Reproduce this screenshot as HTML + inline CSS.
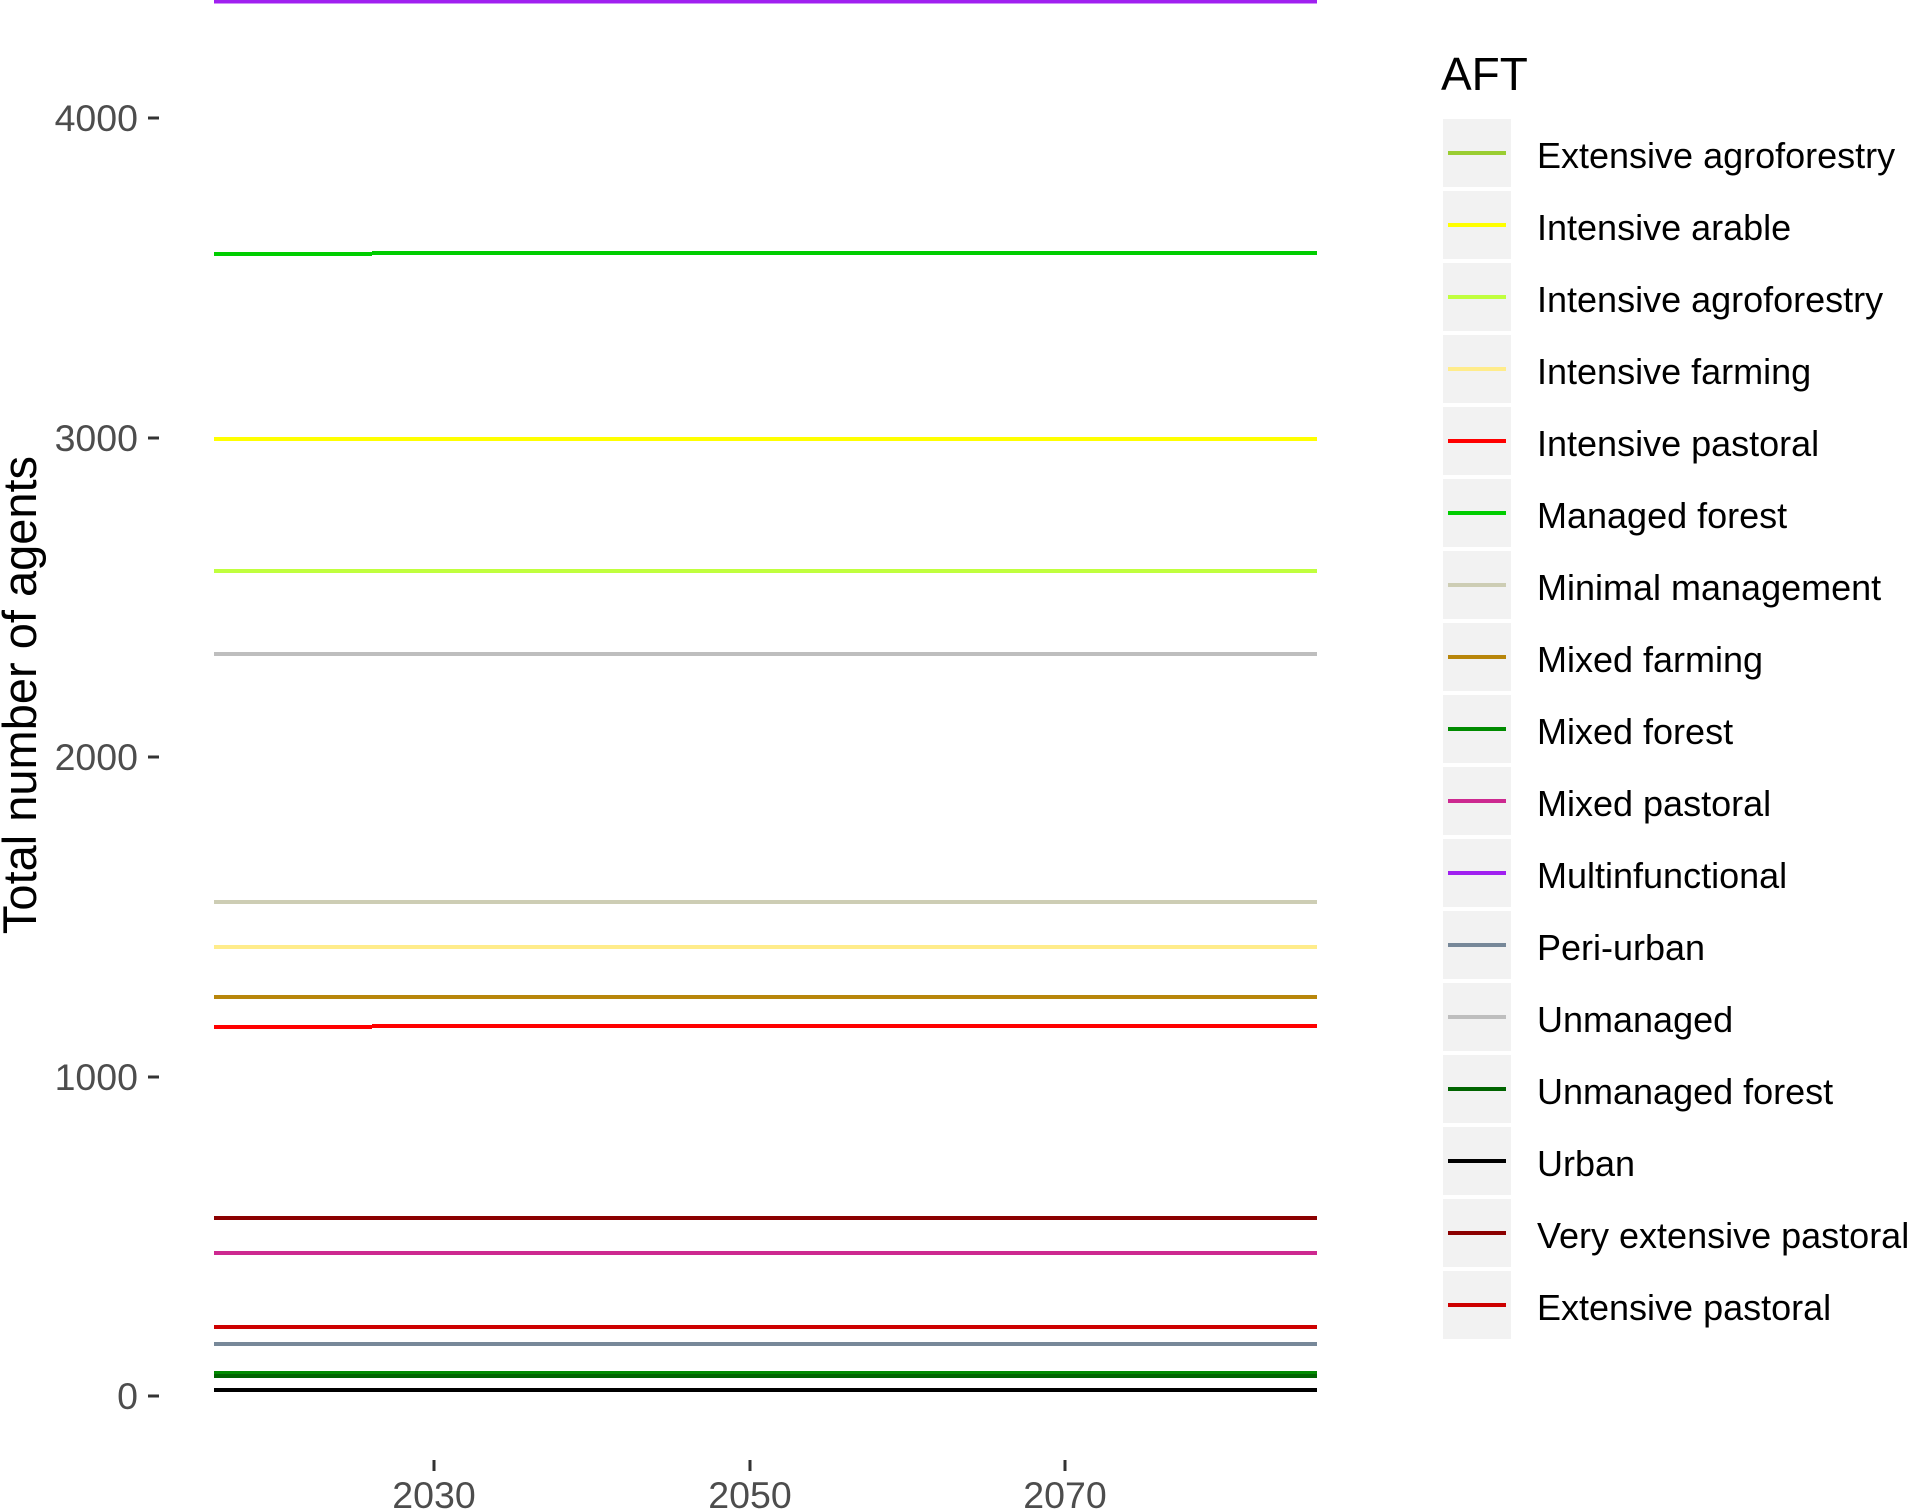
<!DOCTYPE html>
<html><head><meta charset="utf-8"><style>html,body{margin:0;padding:0;background:#fff}svg{display:block}</style></head>
<body>
<svg width="1908" height="1509" viewBox="0 0 1908 1509" xmlns="http://www.w3.org/2000/svg" font-family="Liberation Sans, sans-serif">
<g stroke-width="4" fill="none">
<line x1="214" x2="1317" y1="1.5" y2="1.5" stroke="#a020f0"/>
<line x1="214" x2="372" y1="254" y2="254" stroke="#00cd00"/>
<line x1="372" x2="1317" y1="253" y2="253" stroke="#00cd00"/>
<line x1="214" x2="1317" y1="439" y2="439" stroke="#ffff00"/>
<line x1="214" x2="1317" y1="571" y2="571" stroke="#c0ff3e"/>
<line x1="214" x2="1317" y1="654" y2="654" stroke="#bebebe"/>
<line x1="214" x2="1317" y1="902" y2="902" stroke="#cdcdb4"/>
<line x1="214" x2="1317" y1="947" y2="947" stroke="#ffec8b"/>
<line x1="214" x2="1317" y1="997" y2="997" stroke="#b8860b"/>
<line x1="214" x2="372" y1="1027" y2="1027" stroke="#ff0000"/>
<line x1="372" x2="1317" y1="1026" y2="1026" stroke="#ff0000"/>
<line x1="214" x2="1317" y1="1218" y2="1218" stroke="#8b0000"/>
<line x1="214" x2="1317" y1="1253" y2="1253" stroke="#cd2990"/>
<line x1="214" x2="1317" y1="1327" y2="1327" stroke="#cd0000"/>
<line x1="214" x2="1317" y1="1344" y2="1344" stroke="#778899"/>
<line x1="214" x2="1317" y1="1373" y2="1373" stroke="#008b00"/>
<line x1="214" x2="1317" y1="1376" y2="1376" stroke="#006400"/>
<line x1="214" x2="1317" y1="1390" y2="1390" stroke="#000000"/>
</g>
<g stroke="#333" stroke-width="3">
<line x1="148" x2="159" y1="118" y2="118"/><line x1="148" x2="159" y1="438" y2="438"/>
<line x1="148" x2="159" y1="757" y2="757"/><line x1="148" x2="159" y1="1077" y2="1077"/>
<line x1="148" x2="159" y1="1396" y2="1396"/>
<line x1="434" x2="434" y1="1460" y2="1471"/><line x1="750" x2="750" y1="1460" y2="1471"/><line x1="1065" x2="1065" y1="1460" y2="1471"/>
</g>
<g fill="#4d4d4d" font-size="37.5" text-anchor="end">
<text x="138" y="131">4000</text><text x="138" y="451">3000</text><text x="138" y="770">2000</text><text x="138" y="1090">1000</text><text x="138" y="1409">0</text>
</g>
<g fill="#4d4d4d" font-size="37.5" text-anchor="middle">
<text x="434" y="1508">2030</text><text x="750" y="1508">2050</text><text x="1065" y="1508">2070</text>
</g>
<text transform="translate(36,695) rotate(-90)" font-size="47" text-anchor="middle" fill="#000">Total number of agents</text>
<text x="1441" y="90" font-size="46" fill="#000">AFT</text>
<g fill="#f2f2f2">
<rect x="1443" y="119" width="68" height="68"/><rect x="1443" y="191" width="68" height="68"/><rect x="1443" y="263" width="68" height="68"/><rect x="1443" y="335" width="68" height="68"/><rect x="1443" y="407" width="68" height="68"/><rect x="1443" y="479" width="68" height="68"/><rect x="1443" y="551" width="68" height="68"/><rect x="1443" y="623" width="68" height="68"/><rect x="1443" y="695" width="68" height="68"/><rect x="1443" y="767" width="68" height="68"/><rect x="1443" y="839" width="68" height="68"/><rect x="1443" y="911" width="68" height="68"/><rect x="1443" y="983" width="68" height="68"/><rect x="1443" y="1055" width="68" height="68"/><rect x="1443" y="1127" width="68" height="68"/><rect x="1443" y="1199" width="68" height="68"/><rect x="1443" y="1271" width="68" height="68"/>
</g>
<g stroke-width="4">
<line x1="1448" x2="1506" y1="153" y2="153" stroke="#9acd32"/>
<line x1="1448" x2="1506" y1="225" y2="225" stroke="#ffff00"/>
<line x1="1448" x2="1506" y1="297" y2="297" stroke="#c0ff3e"/>
<line x1="1448" x2="1506" y1="369" y2="369" stroke="#ffec8b"/>
<line x1="1448" x2="1506" y1="441" y2="441" stroke="#ff0000"/>
<line x1="1448" x2="1506" y1="513" y2="513" stroke="#00cd00"/>
<line x1="1448" x2="1506" y1="585" y2="585" stroke="#cdcdb4"/>
<line x1="1448" x2="1506" y1="657" y2="657" stroke="#b8860b"/>
<line x1="1448" x2="1506" y1="729" y2="729" stroke="#008b00"/>
<line x1="1448" x2="1506" y1="801" y2="801" stroke="#cd2990"/>
<line x1="1448" x2="1506" y1="873" y2="873" stroke="#a020f0"/>
<line x1="1448" x2="1506" y1="945" y2="945" stroke="#778899"/>
<line x1="1448" x2="1506" y1="1017" y2="1017" stroke="#bebebe"/>
<line x1="1448" x2="1506" y1="1089" y2="1089" stroke="#006400"/>
<line x1="1448" x2="1506" y1="1161" y2="1161" stroke="#000000"/>
<line x1="1448" x2="1506" y1="1233" y2="1233" stroke="#8b0000"/>
<line x1="1448" x2="1506" y1="1305" y2="1305" stroke="#cd0000"/>
</g>
<g font-size="36" fill="#000">
<text x="1537" y="168">Extensive agroforestry</text>
<text x="1537" y="240">Intensive arable</text>
<text x="1537" y="312">Intensive agroforestry</text>
<text x="1537" y="384">Intensive farming</text>
<text x="1537" y="456">Intensive pastoral</text>
<text x="1537" y="528">Managed forest</text>
<text x="1537" y="600">Minimal management</text>
<text x="1537" y="672">Mixed farming</text>
<text x="1537" y="744">Mixed forest</text>
<text x="1537" y="816">Mixed pastoral</text>
<text x="1537" y="888">Multinfunctional</text>
<text x="1537" y="960">Peri-urban</text>
<text x="1537" y="1032">Unmanaged</text>
<text x="1537" y="1104">Unmanaged forest</text>
<text x="1537" y="1176">Urban</text>
<text x="1537" y="1248">Very extensive pastoral</text>
<text x="1537" y="1320">Extensive pastoral</text>
</g>
</svg>
</body></html>
